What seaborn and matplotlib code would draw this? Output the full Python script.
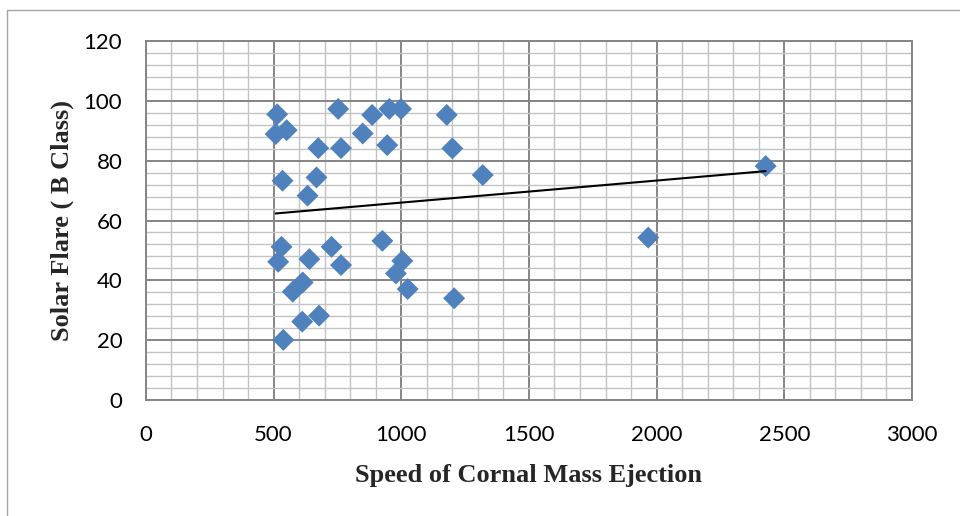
import pandas as pd
import numpy as np
import matplotlib
matplotlib.use('Agg')
import matplotlib.pyplot as plt
from matplotlib.ticker import MultipleLocator
from matplotlib.patches import Rectangle
import seaborn as sns

# CME speed vs B class flare
cme_speed = [514, 508, 551, 753, 886, 953, 999, 1178, 849, 675, 764, 945, 1200,
             535, 668, 633, 1319,
             531, 518, 640, 727, 764, 926, 1004, 979, 1025, 614, 575, 678, 612, 538, 1207,
             1967, 2427]
flare_b = [95.5, 88.9, 90.2, 97.3, 95.3, 97.3, 97.3, 95.3, 89.1, 84.2, 84.2, 85.2, 84.1,
           73.3, 74.4, 68.3, 75.2,
           51.2, 46.2, 47.1, 51.2, 45.1, 53.2, 46.5, 42.3, 37.1, 39.3, 36.2, 28.2, 26.2, 20.1, 34.0,
           54.3, 78.2]

df = pd.DataFrame({'speed': cme_speed, 'flare': flare_b})

sns.set_style('white')
plt.rcParams['font.family'] = ['Lato', 'DejaVu Sans']

fig = plt.figure(figsize=(9.6, 5.16), dpi=100)
ax = fig.add_axes([0.152, 0.2248, 0.798, 0.6957])

major_c = '#858585'
minor_c = '#c3c3c3'

ax.xaxis.set_major_locator(MultipleLocator(500))
ax.xaxis.set_minor_locator(MultipleLocator(100))
ax.yaxis.set_major_locator(MultipleLocator(20))
ax.yaxis.set_minor_locator(MultipleLocator(4))
ax.grid(which='minor', color=minor_c, linewidth=1.0, zorder=0)
ax.grid(which='major', color=major_c, linewidth=1.4, zorder=0)
ax.set_axisbelow(True)

sns.scatterplot(data=df, x='speed', y='flare', marker='D', s=125, color='#4f81bd',
                edgecolor='none', ax=ax, zorder=3)
# linear trendline
sns.regplot(data=df, x='speed', y='flare', scatter=False, ci=None, ax=ax,
            line_kws={'color': 'black', 'linewidth': 1.5, 'zorder': 4})

ax.set_xlim(0, 3000)
ax.set_ylim(0, 120)

for s in ax.spines.values():
    s.set_color(major_c)
    s.set_linewidth(1.4)

ax.tick_params(which='major', direction='out', length=6, color=major_c, width=1.4,
               labelsize=16, labelcolor='black')
ax.tick_params(which='minor', length=0)
ax.tick_params(axis='x', pad=12)
ax.tick_params(axis='y', pad=11)

ax.set_xlabel('Speed of Cornal Mass Ejection', family='Liberation Serif',
              fontweight='bold', fontsize=19, labelpad=14)
ax.set_ylabel('Solar Flare ( B Class)', family='Liberation Serif',
              fontweight='bold', fontsize=19, labelpad=7)

# chart frame
fig.patches.append(Rectangle((0.007, -0.05), 1.1, 1.03, transform=fig.transFigure,
                             fill=False, edgecolor='#a6a6a6', linewidth=1.0))

fig.savefig('out.png', dpi=100)
